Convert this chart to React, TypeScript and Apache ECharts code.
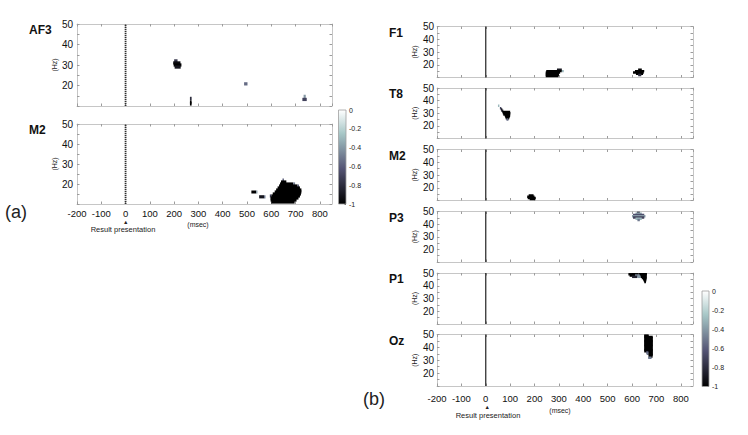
import React, { useEffect, useRef } from 'react';
import * as echarts from 'echarts';

const FONT = '"Liberation Sans", Arial, Helvetica, sans-serif';

// axes ranges
const timeMin = -200;
const timeMax = 850;
const timeStep = 100;
const freqMin = 10;
const freqMax = 50;
const onsetTime = 0;

// colour scale (MATLAB "bone"), value -1 .. 0
const colorMin = -1;
const colorMax = 0;
const colorTicks = 0.2;
const boneColors = ['#000000', '#1c1c27', '#38384d', '#545474', '#707a8f', '#8ba1ab', '#a7c7c7', '#d3e3e3', '#ffffff'];

// runs of cells: [tStart (msec), tEnd (msec), frequency (Hz), value]
const af3Runs = [
  [200, 214, 32, -0.75],
  [196, 226, 31, -0.95],
  [198, 230, 30, -1],
  [202, 227, 29, -0.9],
  [265, 272, 13.7, -0.8],
  [265, 272, 12, -1],
  [265, 272, 11, -1],
  [488, 502, 20.8, -0.55],
  [733, 742, 14.7, -0.4],
  [728, 746, 13.2, -0.7],
];

const m2aRuns = [
  [518, 538, 16, -1],
  [538, 543, 16, -0.4],
  [550, 570, 13.6, -0.9],
  [570, 576, 13.6, -0.5],
  [646, 652, 22, -0.6],
  [640, 662, 21, -1],
  [636, 690, 20, -1],
  [690, 698, 20, -0.5],
  [632, 708, 19, -1],
  [708, 714, 19, -0.6],
  [626, 718, 18, -1],
  [620, 724, 17, -1],
  [614, 724, 16, -1],
  [606, 722, 15, -1],
  [600, 718, 14, -1],
  [594, 600, 14, -0.7],
  [597, 712, 13, -1],
  [597, 704, 12, -1],
  [600, 696, 11, -1],
];

const f1Runs = [
  [292, 312, 16, -0.9],
  [248, 312, 15, -1],
  [312, 320, 15, -0.3],
  [246, 305, 14, -1],
  [246, 300, 13, -1],
  [246, 300, 12, -1],
  [246, 298, 11, -1],
  [625, 640, 16, -1],
  [612, 650, 15, -1],
  [604, 648, 14, -1],
  [616, 645, 13, -1],
  [625, 638, 12, -0.8],
];

const t8Runs = [
  [50, 56, 36, -0.3],
  [58, 64, 34, -0.7],
  [62, 68, 33, -0.9],
  [64, 72, 32, -0.85],
  [68, 100, 31, -1],
  [70, 101, 30, -1],
  [72, 100, 29, -1],
  [78, 100, 28, -1],
  [80, 98, 27, -1],
  [82, 96, 26, -1],
  [85, 93, 25, -0.55],
];

const m2bRuns = [
  [176, 196, 14, -1],
  [170, 200, 13, -1],
  [172, 205, 12, -1],
  [180, 203, 11, -1],
];

const p3Runs = [
  [620, 632, 49.3, -0.8],
  [614, 640, 48.3, -0.35],
  [604, 650, 47.3, -0.65],
  [600, 655, 46.3, -0.4],
  [604, 650, 45.3, -0.7],
  [614, 640, 44.3, -0.3],
  [622, 632, 43.3, -0.5],
];

const p1Runs = [
  [598, 612, 50, -0.9],
  [628, 660, 50, -1],
  [585, 626, 49, -1],
  [626, 661, 49, -1],
  [590, 612, 48, -1],
  [612, 632, 48, -0.45],
  [632, 660, 48, -1],
  [600, 622, 47, -0.85],
  [622, 636, 47, -0.4],
  [636, 660, 47, -1],
  [640, 660, 46, -1],
  [645, 659, 45, -1],
  [648, 658, 44, -1],
  [650, 657, 43, -1],
];

const ozRuns = [
  [650, 668, 50, -1],
  [650, 668, 49, -1],
  [650, 685, 48, -1],
  [650, 685, 47, -1],
  [650, 685, 46, -1],
  [650, 685, 45, -1],
  [650, 685, 44, -1],
  [650, 685, 43, -1],
  [650, 685, 42, -1],
  [650, 685, 41, -1],
  [650, 685, 40, -1],
  [650, 685, 39, -1],
  [650, 685, 38, -1],
  [650, 685, 37, -1],
  [658, 668, 36, -0.6],
  [668, 685, 36, -1],
  [660, 668, 35, -0.5],
  [668, 685, 35, -1],
  [668, 685, 34, -1],
  [668, 684, 33, -1],
  [666, 680, 32, -0.5],
];

type Panel = {
  label: string;
  runs: number[][];
  left: number;
  top: number;
  width: number;
  height: number;
  part: 'a' | 'b';
  showX: boolean;
};

const panels: Panel[] = [
  { label: 'AF3', runs: af3Runs, left: 77, top: 24, width: 255, height: 82, part: 'a', showX: false },
  { label: 'M2', runs: m2aRuns, left: 77, top: 124, width: 255, height: 80, part: 'a', showX: true },
  { label: 'F1', runs: f1Runs, left: 437, top: 26.5, width: 256, height: 51, part: 'b', showX: false },
  { label: 'T8', runs: t8Runs, left: 437, top: 88, width: 256, height: 50.5, part: 'b', showX: false },
  { label: 'M2', runs: m2bRuns, left: 437, top: 149.5, width: 256, height: 51, part: 'b', showX: false },
  { label: 'P3', runs: p3Runs, left: 437, top: 211.5, width: 256, height: 50.5, part: 'b', showX: false },
  { label: 'P1', runs: p1Runs, left: 437, top: 273, width: 256, height: 51, part: 'b', showX: false },
  { label: 'Oz', runs: ozRuns, left: 437, top: 334.5, width: 256, height: 51.5, part: 'b', showX: true },
];

const colorbars = [
  { left: 338.5, top: 110, width: 7.5, height: 94 },
  { left: 702, top: 291, width: 7, height: 95.5 },
];

function buildOption() {
  const grid: any[] = [];
  const xAxis: any[] = [];
  const yAxis: any[] = [];
  const series: any[] = [];
  const heatSeries: number[] = [];
  const graphic: any[] = [];

  const axisLine = { show: true, onZero: false, lineStyle: { color: '#c6c6c6', width: 1 } };
  const axisTick = { show: true, inside: true, length: 2.5, lineStyle: { color: '#9c9c9c', width: 1 } };

  panels.forEach((p, i) => {
    grid.push({ left: p.left, top: p.top, width: p.width, height: p.height, show: false });
    xAxis.push({
      type: 'value', gridIndex: i, min: timeMin, max: timeMax, interval: timeStep, position: 'bottom',
      axisLine, axisTick, splitLine: { show: false },
      axisLabel: {
        show: p.showX, fontSize: 9.5, color: '#111', fontFamily: FONT,
        margin: p.part === 'a' ? 4 : 7, showMaxLabel: false,
      },
    });
    xAxis.push({
      type: 'value', gridIndex: i, min: timeMin, max: timeMax, interval: timeStep, position: 'top',
      axisLine, axisTick, splitLine: { show: false }, axisLabel: { show: false },
    });
    yAxis.push({
      type: 'value', gridIndex: i, min: freqMin, max: freqMax, interval: 5, position: 'left',
      axisLine, axisTick, splitLine: { show: false },
      axisLabel: {
        fontSize: 10, color: '#111', fontFamily: FONT, margin: p.part === 'a' ? 4 : 3,
        formatter: (v: number) => (v % 10 === 0 && v > freqMin ? String(v) : ''),
      },
      name: '(Hz)', nameLocation: 'middle', nameRotate: 90, nameGap: 19,
      nameTextStyle: { fontSize: 7, color: '#222', fontFamily: FONT },
    });
    yAxis.push({
      type: 'value', gridIndex: i, min: freqMin, max: freqMax, interval: 5, position: 'right',
      axisLine, axisTick, splitLine: { show: false }, axisLabel: { show: false },
    });

    heatSeries.push(series.length);
    series.push({
      type: 'custom',
      xAxisIndex: 2 * i,
      yAxisIndex: 2 * i,
      data: p.runs,
      encode: { x: [0, 1], y: 2 },
      clip: true,
      silent: true,
      renderItem: (_params: any, api: any) => {
        const t0 = api.value(0);
        const t1 = api.value(1);
        const f = api.value(2);
        const a = api.coord([t0, f + 0.5]);
        const b = api.coord([t1, f - 0.5]);
        return {
          type: 'rect',
          shape: { x: a[0], y: a[1] - 0.6, width: b[0] - a[0], height: b[1] - a[1] + 1.2 },
          style: { fill: api.visual('color') },
        };
      },
    });

    series.push({
      type: 'line',
      xAxisIndex: 2 * i,
      yAxisIndex: 2 * i,
      data: [[onsetTime, freqMin], [onsetTime, freqMax]],
      symbol: 'none',
      silent: true,
      z: 3,
      lineStyle: p.part === 'a'
        ? { color: '#2e2e2e', width: 1.8, type: [1.2, 0.8] }
        : { color: '#222', width: 1.2, type: 'solid' },
    });

    graphic.push({
      type: 'text',
      x: p.part === 'a' ? 29 : 389,
      y: p.top + 6,
      style: { text: p.label, font: `bold 12px ${FONT}`, fill: '#111', verticalAlign: 'middle', align: 'left' },
    });
  });

  colorbars.forEach((c, k) => {
    const gi = panels.length + k;
    grid.push({ left: c.left, top: c.top, width: c.width, height: c.height, show: false });
    xAxis.push({ type: 'value', gridIndex: gi, min: 0, max: 1, show: false });
    yAxis.push({
      type: 'value', gridIndex: gi, min: colorMin, max: colorMax, interval: colorTicks, position: 'right',
      axisLine: { show: false, onZero: false }, splitLine: { show: false },
      axisTick: { show: true, inside: true, length: 1.5, lineStyle: { color: '#555' } },
      axisLabel: { fontSize: 7, color: '#222', fontFamily: FONT, margin: 3 },
    });
    series.push({
      type: 'custom',
      xAxisIndex: xAxis.length - 1,
      yAxisIndex: yAxis.length - 1,
      data: [[0, 1, colorMin, colorMax]],
      encode: { x: [0, 1], y: [2, 3] },
      silent: true,
      renderItem: (_params: any, api: any) => {
        const a = api.coord([api.value(0), api.value(3)]);
        const b = api.coord([api.value(1), api.value(2)]);
        return {
          type: 'rect',
          z2: -1,
          shape: { x: a[0], y: a[1], width: b[0] - a[0], height: b[1] - a[1] },
          style: {
            fill: new echarts.graphic.LinearGradient(0, 1, 0, 0,
              boneColors.map((col, j) => ({ offset: j / (boneColors.length - 1), color: col }))),
            stroke: '#a0a0a0',
            lineWidth: 0.8,
          },
        };
      },
    });
  });

  const small = (text: string, x: number, y: number, size: number, align = 'center') => ({
    type: 'text', x, y,
    style: { text, font: `${size}px ${FONT}`, fill: '#222', align, verticalAlign: 'middle' },
  });

  graphic.push(small('(a)', 5, 212, 18, 'left'));
  graphic.push(small('(b)', 363, 399, 18, 'left'));
  graphic.push(small('\u25B2', 125.7, 221.5, 5.5));
  graphic.push(small('\u25B2', 487.3, 407, 5.5));
  graphic.push(small('Result presentation', 123, 229, 7.5));
  graphic.push(small('Result presentation', 488, 415.5, 7.5));
  graphic.push(small('(msec)', 198, 224.5, 7));
  graphic.push(small('(msec)', 560, 410, 7));

  return {
    animation: false,
    backgroundColor: '#ffffff',
    grid,
    xAxis,
    yAxis,
    visualMap: {
      type: 'continuous',
      show: false,
      min: colorMin,
      max: colorMax,
      dimension: 3,
      seriesIndex: heatSeries,
      inRange: { color: boneColors },
    },
    series,
    graphic,
  };
}

export default function App() {
  const ref = useRef<HTMLDivElement>(null);
  useEffect(() => {
    if (!ref.current) return;
    const chart = echarts.init(ref.current, null, { renderer: 'svg' });
    chart.setOption(buildOption() as any);
    return () => chart.dispose();
  }, []);
  return (
    <div
      ref={ref}
      style={{ position: 'fixed', left: 0, top: 0, width: 748, height: 435, background: '#fff' }}
    />
  );
}
